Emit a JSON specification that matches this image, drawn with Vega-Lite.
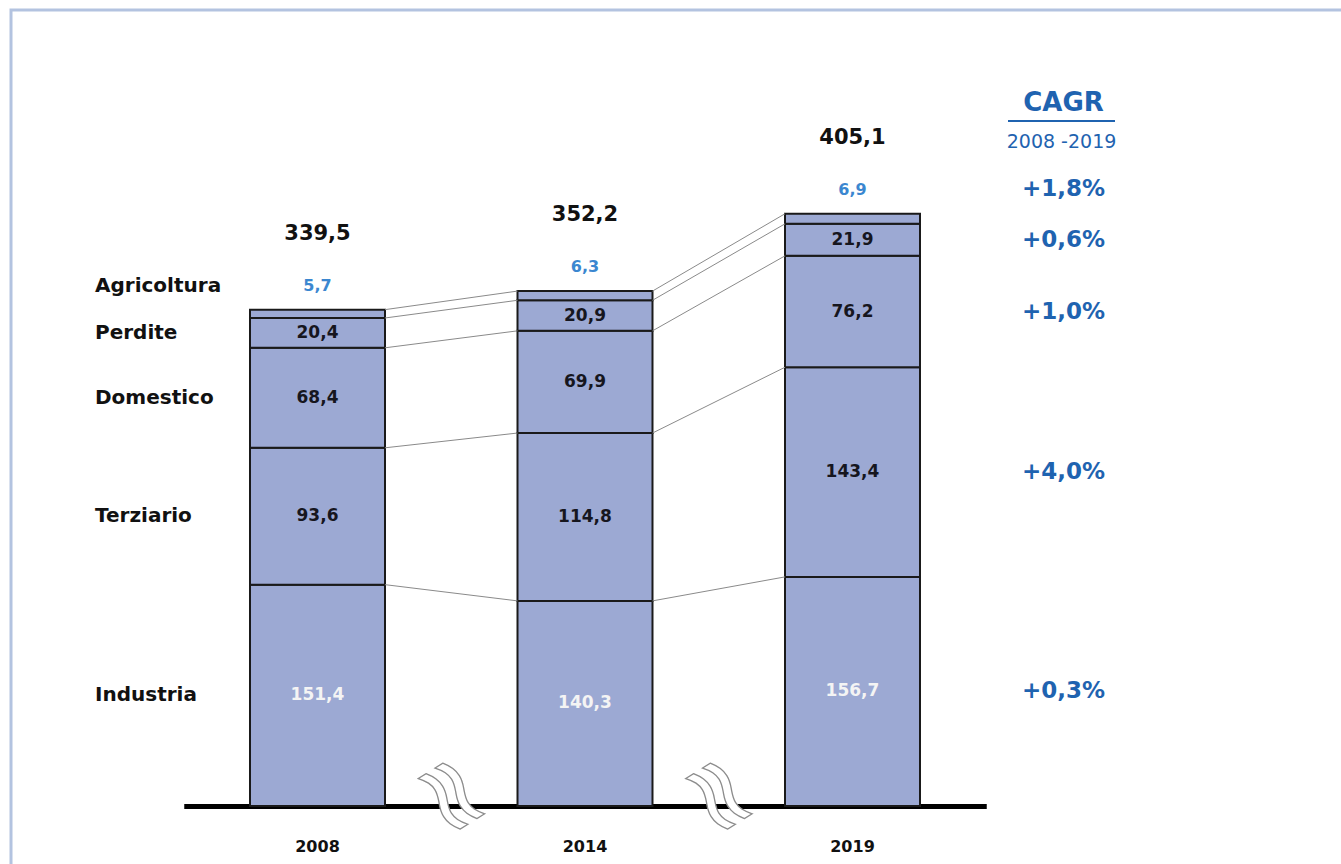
{
  "$schema": "https://vega.github.io/schema/vega-lite/v6.json",
  "width": 1335,
  "height": 859,
  "autosize": {"type": "none"},
  "padding": {"left": 11, "top": 10, "right": -5, "bottom": -5},
  "background": "white",
  "config": {"view": {"stroke": "#B3C3E0", "strokeWidth": 3}, "font": "DejaVu Sans"},
  "data": {
    "values": [
      {"year": "2008", "category": "Industria", "value": 151.4, "cagr": "+0,3%"},
      {"year": "2008", "category": "Terziario", "value": 93.6, "cagr": "+4,0%"},
      {"year": "2008", "category": "Domestico", "value": 68.4, "cagr": "+1,0%"},
      {"year": "2008", "category": "Perdite", "value": 20.4, "cagr": "+0,6%"},
      {"year": "2008", "category": "Agricoltura", "value": 5.7, "cagr": "+1,8%"},
      {"year": "2014", "category": "Industria", "value": 140.3, "cagr": "+0,3%"},
      {"year": "2014", "category": "Terziario", "value": 114.8, "cagr": "+4,0%"},
      {"year": "2014", "category": "Domestico", "value": 69.9, "cagr": "+1,0%"},
      {"year": "2014", "category": "Perdite", "value": 20.9, "cagr": "+0,6%"},
      {"year": "2014", "category": "Agricoltura", "value": 6.3, "cagr": "+1,8%"},
      {"year": "2019", "category": "Industria", "value": 156.7, "cagr": "+0,3%"},
      {"year": "2019", "category": "Terziario", "value": 143.4, "cagr": "+4,0%"},
      {"year": "2019", "category": "Domestico", "value": 76.2, "cagr": "+1,0%"},
      {"year": "2019", "category": "Perdite", "value": 21.9, "cagr": "+0,6%"},
      {"year": "2019", "category": "Agricoltura", "value": 6.9, "cagr": "+1,8%"}
    ]
  },
  "transform": [
    {"calculate": "indexof(['Industria','Terziario','Domestico','Perdite','Agricoltura'], datum.category)", "as": "ord"},
    {"stack": "value", "groupby": ["year"], "sort": [{"field": "ord", "order": "ascending"}], "as": ["v0", "v1"]},
    {"calculate": "(datum.v0 + datum.v1) / 2", "as": "mid"},
    {"calculate": "replace(format(datum.value, '.1f'), '.', ',')", "as": "label"}
  ],
  "encoding": {
    "x": {
      "field": "year",
      "type": "nominal",
      "scale": {"domain": ["2008", "2014", "2019"], "range": [172.75, 975.25], "paddingInner": 0.49533, "paddingOuter": 0.24766},
      "axis": {
        "title": null,
        "orient": "bottom",
        "offset": -63,
        "domainColor": "#000000",
        "domainWidth": 5,
        "ticks": false,
        "grid": false,
        "labelAngle": 0,
        "labelFont": "DejaVu Sans",
        "labelFontWeight": "bold",
        "labelFontSize": 16,
        "labelColor": "#111111",
        "labelPadding": 32
      }
    }
  },
  "layer": [
    {
      "mark": {"type": "bar", "fill": "#9CA9D3", "stroke": "#1A1A1A", "strokeWidth": 2},
      "encoding": {
        "y": {"field": "v0", "type": "quantitative", "scale": {"domain": [0, 544.46], "range": [796, 0], "nice": false, "zero": false}, "axis": null},
        "y2": {"field": "v1"}
      }
    },
    {
      "transform": [
        {"window": [{"op": "lead", "field": "v1", "as": "v1n"}, {"op": "lead", "field": "year", "as": "yearn"}], "groupby": ["category"], "sort": [{"field": "year", "order": "ascending"}]},
        {"filter": "datum.yearn != null"}
      ],
      "mark": {"type": "rule", "color": "#8A8A8A", "strokeWidth": 1, "xOffset": 67.5, "x2Offset": -67.5},
      "encoding": {
        "x2": {"field": "yearn"},
        "y": {"field": "v1", "type": "quantitative", "scale": {"domain": [0, 544.46], "range": [796, 0], "nice": false, "zero": false}, "axis": null},
        "y2": {"field": "v1n"}
      }
    },
    {
      "transform": [{"filter": "datum.category != 'Agricoltura'"}],
      "mark": {"type": "text", "font": "DejaVu Sans", "fontWeight": "bold", "fontSize": 17},
      "encoding": {
        "y": {"field": "mid", "type": "quantitative", "scale": {"domain": [0, 544.46], "range": [796, 0], "nice": false, "zero": false}, "axis": null},
        "text": {"field": "label"},
        "color": {"condition": {"test": "datum.category == 'Industria'", "value": "#F4F4F4"}, "value": "#16161E"}
      }
    },
    {
      "transform": [{"filter": "datum.category == 'Agricoltura'"}],
      "mark": {"type": "text", "font": "DejaVu Sans", "fontWeight": "bold", "fontSize": 16, "dy": -24, "color": "#3B87D0"},
      "encoding": {
        "y": {"field": "v1", "type": "quantitative", "scale": {"domain": [0, 544.46], "range": [796, 0], "nice": false, "zero": false}, "axis": null},
        "text": {"field": "label"}
      }
    },
    {
      "transform": [{"filter": "datum.year == '2008' && datum.category != 'Agricoltura'"}],
      "mark": {"type": "text", "font": "DejaVu Sans", "fontWeight": "bold", "fontSize": 20, "align": "left", "dx": -222.5, "color": "#111111"},
      "encoding": {
        "y": {"field": "mid", "type": "quantitative", "scale": {"domain": [0, 544.46], "range": [796, 0], "nice": false, "zero": false}, "axis": null},
        "text": {"field": "category"}
      }
    },
    {
      "transform": [{"filter": "datum.year == '2008' && datum.category == 'Agricoltura'"}],
      "mark": {"type": "text", "font": "DejaVu Sans", "fontWeight": "bold", "fontSize": 20, "align": "left", "dx": -222.5, "dy": -24, "color": "#111111"},
      "encoding": {
        "y": {"field": "v1", "type": "quantitative", "scale": {"domain": [0, 544.46], "range": [796, 0], "nice": false, "zero": false}, "axis": null},
        "text": {"field": "category"}
      }
    },
    {
      "transform": [
        {"aggregate": [{"op": "sum", "field": "value", "as": "total"}], "groupby": ["year"]},
        {"calculate": "replace(format(datum.total, '.1f'), '.', ',')", "as": "tlabel"}
      ],
      "mark": {"type": "text", "font": "DejaVu Sans", "fontWeight": "bold", "fontSize": 21, "dy": -76, "color": "#111111"},
      "encoding": {
        "y": {"field": "total", "type": "quantitative", "scale": {"domain": [0, 544.46], "range": [796, 0], "nice": false, "zero": false}, "axis": null},
        "text": {"field": "tlabel"}
      }
    },
    {
      "transform": [{"filter": "datum.year == '2019' && datum.category != 'Agricoltura'"}],
      "mark": {"type": "text", "font": "DejaVu Sans", "fontWeight": "bold", "fontSize": 23, "dx": 211, "color": "#1F63B0"},
      "encoding": {
        "y": {"field": "mid", "type": "quantitative", "scale": {"domain": [0, 544.46], "range": [796, 0], "nice": false, "zero": false}, "axis": null},
        "text": {"field": "cagr"}
      }
    },
    {
      "transform": [{"filter": "datum.year == '2019' && datum.category == 'Agricoltura'"}],
      "mark": {"type": "text", "font": "DejaVu Sans", "fontWeight": "bold", "fontSize": 23, "dx": 211, "dy": -25, "color": "#1F63B0"},
      "encoding": {
        "y": {"field": "v1", "type": "quantitative", "scale": {"domain": [0, 544.46], "range": [796, 0], "nice": false, "zero": false}, "axis": null},
        "text": {"field": "cagr"}
      }
    },
    {
      "transform": [{"filter": "datum.year == '2019' && datum.category == 'Industria'"}],
      "mark": {"type": "text", "text": "CAGR", "font": "DejaVu Sans", "fontWeight": "bold", "fontSize": 26, "dx": 211, "color": "#1F63B0"},
      "encoding": {
        "y": {"datum": 480.8, "type": "quantitative", "scale": {"domain": [0, 544.46], "range": [796, 0], "nice": false, "zero": false}, "axis": null}
      }
    },
    {
      "transform": [{"filter": "datum.year == '2019' && datum.category == 'Industria'"}],
      "mark": {"type": "text", "text": "2008 -2019", "font": "DejaVu Sans", "fontSize": 19, "dx": 209, "color": "#1F63B0"},
      "encoding": {
        "y": {"datum": 454.2, "type": "quantitative", "scale": {"domain": [0, 544.46], "range": [796, 0], "nice": false, "zero": false}, "axis": null}
      }
    },
    {
      "transform": [{"filter": "datum.year == '2019' && datum.category == 'Industria'"}],
      "mark": {"type": "rule", "color": "#1F63B0", "strokeWidth": 2, "xOffset": 155.5, "x2Offset": 262.5},
      "encoding": {
        "x2": {"field": "year"},
        "y": {"datum": 468.5, "type": "quantitative", "scale": {"domain": [0, 544.46], "range": [796, 0], "nice": false, "zero": false}, "axis": null}
      }
    },
    {
      "transform": [{"filter": "datum.year != '2008' && datum.category == 'Industria'"}],
      "mark": {"type": "text", "text": "≈", "font": "DejaVu Sans", "fontSize": 104, "angle": 58, "align": "center", "baseline": "middle", "dx": -79.2, "dy": 109.7, "fill": "white", "stroke": "#8C8C8C", "strokeWidth": 1.3},
      "encoding": {
        "y": {"datum": 0, "type": "quantitative", "scale": {"domain": [0, 544.46], "range": [796, 0], "nice": false, "zero": false}, "axis": null}
      }
    }
  ]
}
